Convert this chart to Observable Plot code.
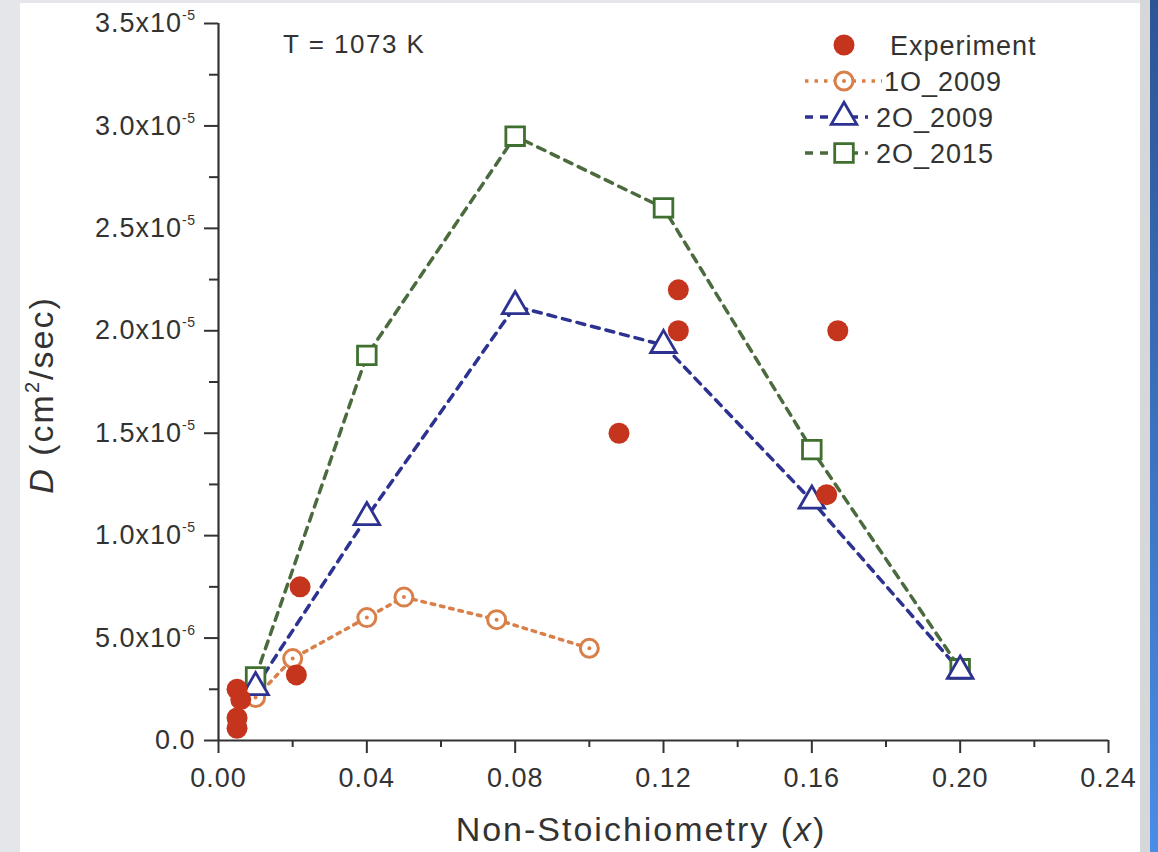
<!DOCTYPE html>
<html><head><meta charset="utf-8">
<script src="https://cdn.jsdelivr.net/npm/d3@7"></script>
<script src="https://cdn.jsdelivr.net/npm/@observablehq/plot@0.6"></script>
<style>
body{margin:0;width:1158px;height:852px;overflow:hidden;background:#e4e6e9;font-family:"Liberation Sans",Arial,sans-serif;position:relative;color:#333}
#panel{position:absolute;left:20px;top:3px;width:1120px;height:849px;background:#fff}
#gap{position:absolute;left:1140px;top:0;width:10px;height:852px;background:#d6d7d9}
#blue{position:absolute;left:1150px;top:0;width:8px;height:852px;background:linear-gradient(#2c5596,#4a8de6)}
#chart{position:absolute;left:0;top:0}
#legend{position:absolute;left:0;top:0}
.t{position:absolute;white-space:nowrap;transform:translate(-50%,-50%)}
</style></head>
<body>
<div id="panel"></div><div id="gap"></div><div id="blue"></div>
<div id="chart"></div>
<div style="position:absolute;left:283px;top:29px;font-size:26px;letter-spacing:1.5px;white-space:nowrap;line-height:30px;">T = 1073 K</div>
<div class="t" style="left:641px;top:829px;font-size:34px;letter-spacing:2px;">Non-Stoichiometry (<i>x</i>)</div>
<div class="t" style="left:41px;top:395px;font-size:34px;letter-spacing:2px;transform:translate(-50%,-50%) rotate(-90deg);"><i>D</i> (cm<span style="font-size:20px;position:relative;top:-14px">2</span>/sec)</div>
<svg id="legend" width="1158" height="852"></svg>
<script>
// ---- data ----
const expX = [0.005, 0.006, 0.005, 0.005, 0.021, 0.022, 0.108, 0.124, 0.124, 0.164, 0.167];
const expD = [2.5e-6, 2.0e-6, 1.1e-6, 0.6e-6, 3.2e-6, 7.5e-6, 1.5e-5, 2.2e-5, 2.0e-5, 1.2e-5, 2.0e-5];
const o1X = [0.01, 0.02, 0.04, 0.05, 0.075, 0.10];
const o1D = [2.1e-6, 4.0e-6, 6.0e-6, 7.0e-6, 5.9e-6, 4.5e-6];
const o2X = [0.01, 0.04, 0.08, 0.12, 0.16, 0.20];
const o2D = [2.6e-6, 1.09e-5, 2.12e-5, 1.93e-5, 1.17e-5, 3.4e-6];
const o15X = [0.01, 0.04, 0.08, 0.12, 0.16, 0.20];
const o15D = [3.1e-6, 1.88e-5, 2.95e-5, 2.6e-5, 1.42e-5, 3.5e-6];
const seriesNames = ["Experiment", "1O_2009", "2O_2009", "2O_2015"];
const xTicks = [0, 0.04, 0.08, 0.12, 0.16, 0.20, 0.24];
const xTickLabels = ["0.00", "0.04", "0.08", "0.12", "0.16", "0.20", "0.24"];
const xMinor = [0.02, 0.06, 0.10, 0.14, 0.18, 0.22];
const yTicks = [0, 5e-6, 1e-5, 1.5e-5, 2e-5, 2.5e-5, 3e-5, 3.5e-5];
const yTickMant = ["0.0", "5.0x10", "1.0x10", "1.5x10", "2.0x10", "2.5x10", "3.0x10", "3.5x10"];
const yTickExp = ["", "-6", "-5", "-5", "-5", "-5", "-5", "-5"];
const yMinor = [2.5e-6, 7.5e-6, 1.25e-5, 1.75e-5, 2.25e-5, 2.75e-5, 3.25e-5];

// ---- styles ----
const cRed = "#c5341c", cOrange = "#d9804a", cBlue = "#2d3290", cGreen = "#3f7030", cGreenLine = "#4b6b3e", cAxis = "#333";

const tbl = (xs, ys) => xs.map((x, i) => ({x, D: ys[i]}));
const exp = tbl(expX, expD), s1 = tbl(o1X, o1D), s2 = tbl(o2X, o2D), s3 = tbl(o15X, o15D);

const chart = Plot.plot({
  width: 1158, height: 852,
  marginLeft: 218, marginRight: 50, marginTop: 23, marginBottom: 112,
  style: {background: "transparent", overflow: "visible", fontFamily: "Liberation Sans, Arial, sans-serif", color: "#333"},
  x: {domain: [0, 0.24]},
  y: {domain: [0, 3.5e-5]},
  marks: [
    Plot.axisX({ticks: xMinor, tickSize: 7, tickFormat: () => "", strokeWidth: 2, stroke: cAxis, label: null}),
    Plot.axisX({ticks: xTicks, tickSize: 13, tickPadding: 14, strokeWidth: 2, stroke: cAxis,
      tickFormat: d => xTickLabels[xTicks.indexOf(d)], label: null}),
    Plot.axisY({ticks: yMinor, tickSize: 9, tickFormat: () => "", strokeWidth: 2, stroke: cAxis, label: null}),
    Plot.axisY({ticks: yTicks, tickSize: 14, tickPadding: 9, strokeWidth: 2, stroke: cAxis,
      tickFormat: d => { const i = yTicks.indexOf(d); return yTickExp[i] ? yTickMant[i] + "|" + yTickExp[i] : yTickMant[i]; }, label: null}),
    Plot.ruleX([0], {y1: 0, y2: 3.5e-5, stroke: cAxis, strokeWidth: 2.2}),
    Plot.ruleY([0], {x1: 0, x2: 0.24, stroke: cAxis, strokeWidth: 2.2}),
    Plot.line(s3, {x: "x", y: "D", stroke: cGreenLine, strokeWidth: 3.5, strokeDasharray: "8,7"}),
    Plot.line(s2, {x: "x", y: "D", stroke: cBlue, strokeWidth: 3.5, strokeDasharray: "8,7"}),
    Plot.line(s1, {x: "x", y: "D", stroke: cOrange, strokeWidth: 3.5, strokeDasharray: "3.5,6"}),
    Plot.dot(s1, {x: "x", y: "D", r: 9, stroke: cOrange, strokeWidth: 3, fill: "white"}),
    Plot.dot(s1, {x: "x", y: "D", r: 2, fill: cOrange}),
    Plot.dot(s3, {x: "x", y: "D", symbol: "square", r: 10.5, stroke: cGreen, strokeWidth: 2.8, fill: "white"}),
    Plot.dot(s2, {x: "x", y: "D", symbol: "triangle", r: 9.5, stroke: cBlue, strokeWidth: 2.8, fill: "white"}),
    Plot.dot(exp, {x: "x", y: "D", r: 10.5, fill: cRed})
  ]
});
document.getElementById("chart").appendChild(chart);

// tick label font + superscript exponents
const ns = "http://www.w3.org/2000/svg";
chart.querySelectorAll("text").forEach(t => {
  t.style.fontSize = "27px";
  t.style.letterSpacing = "1px";
  t.style.fill = "#333";
  const s = t.textContent;
  if (s.includes("|")) {
    const [m, e] = s.split("|");
    t.textContent = "";
    const a = document.createElementNS(ns, "tspan"); a.textContent = m;
    const b = document.createElementNS(ns, "tspan"); b.textContent = e;
    b.style.fontSize = "14px"; b.style.letterSpacing = "0.5px"; b.setAttribute("dy", "-12");
    t.appendChild(a); t.appendChild(b);
  }
});

// legend
const lg = d3.select("#legend");
const rows = [
  {name: seriesNames[0], y: 45, kind: "exp"},
  {name: seriesNames[1], y: 81, kind: "o1"},
  {name: seriesNames[2], y: 117, kind: "o2"},
  {name: seriesNames[3], y: 153, kind: "o15"}
];
const sx = 844;
rows.forEach(r => {
  if (r.kind === "o1") {
    lg.append("line").attr("x1", 805).attr("x2", 882).attr("y1", r.y).attr("y2", r.y)
      .attr("stroke", cOrange).attr("stroke-width", 3.5).attr("stroke-dasharray", "3.5,6");
    lg.append("circle").attr("cx", sx).attr("cy", r.y).attr("r", 9).attr("fill", "white").attr("stroke", cOrange).attr("stroke-width", 3);
    lg.append("circle").attr("cx", sx).attr("cy", r.y).attr("r", 2).attr("fill", cOrange);
  } else if (r.kind === "o2") {
    lg.append("line").attr("x1", 805).attr("x2", 868).attr("y1", r.y).attr("y2", r.y)
      .attr("stroke", cBlue).attr("stroke-width", 3.5).attr("stroke-dasharray", "8,7");
    lg.append("path").attr("transform", `translate(${sx},${r.y})`).attr("d", d3.symbol(d3.symbolTriangle, Math.PI * 90)())
      .attr("fill", "white").attr("stroke", cBlue).attr("stroke-width", 2.8);
  } else if (r.kind === "o15") {
    lg.append("line").attr("x1", 805).attr("x2", 868).attr("y1", r.y).attr("y2", r.y)
      .attr("stroke", cGreenLine).attr("stroke-width", 3.5).attr("stroke-dasharray", "8,7");
    lg.append("path").attr("transform", `translate(${sx},${r.y})`).attr("d", d3.symbol(d3.symbolSquare, Math.PI * 110)())
      .attr("fill", "white").attr("stroke", cGreen).attr("stroke-width", 2.8);
  } else {
    lg.append("circle").attr("cx", sx).attr("cy", r.y).attr("r", 10.5).attr("fill", cRed);
  }
  lg.append("text").attr("x", r.kind === "exp" ? 890 : (r.kind === "o1" ? 884 : 876)).attr("y", r.y).attr("dy", "0.36em")
    .attr("font-size", 27).attr("letter-spacing", "1").attr("fill", "#333")
    .attr("font-family", "Liberation Sans, Arial, sans-serif").text(r.name);
});
</script>
</body></html>
